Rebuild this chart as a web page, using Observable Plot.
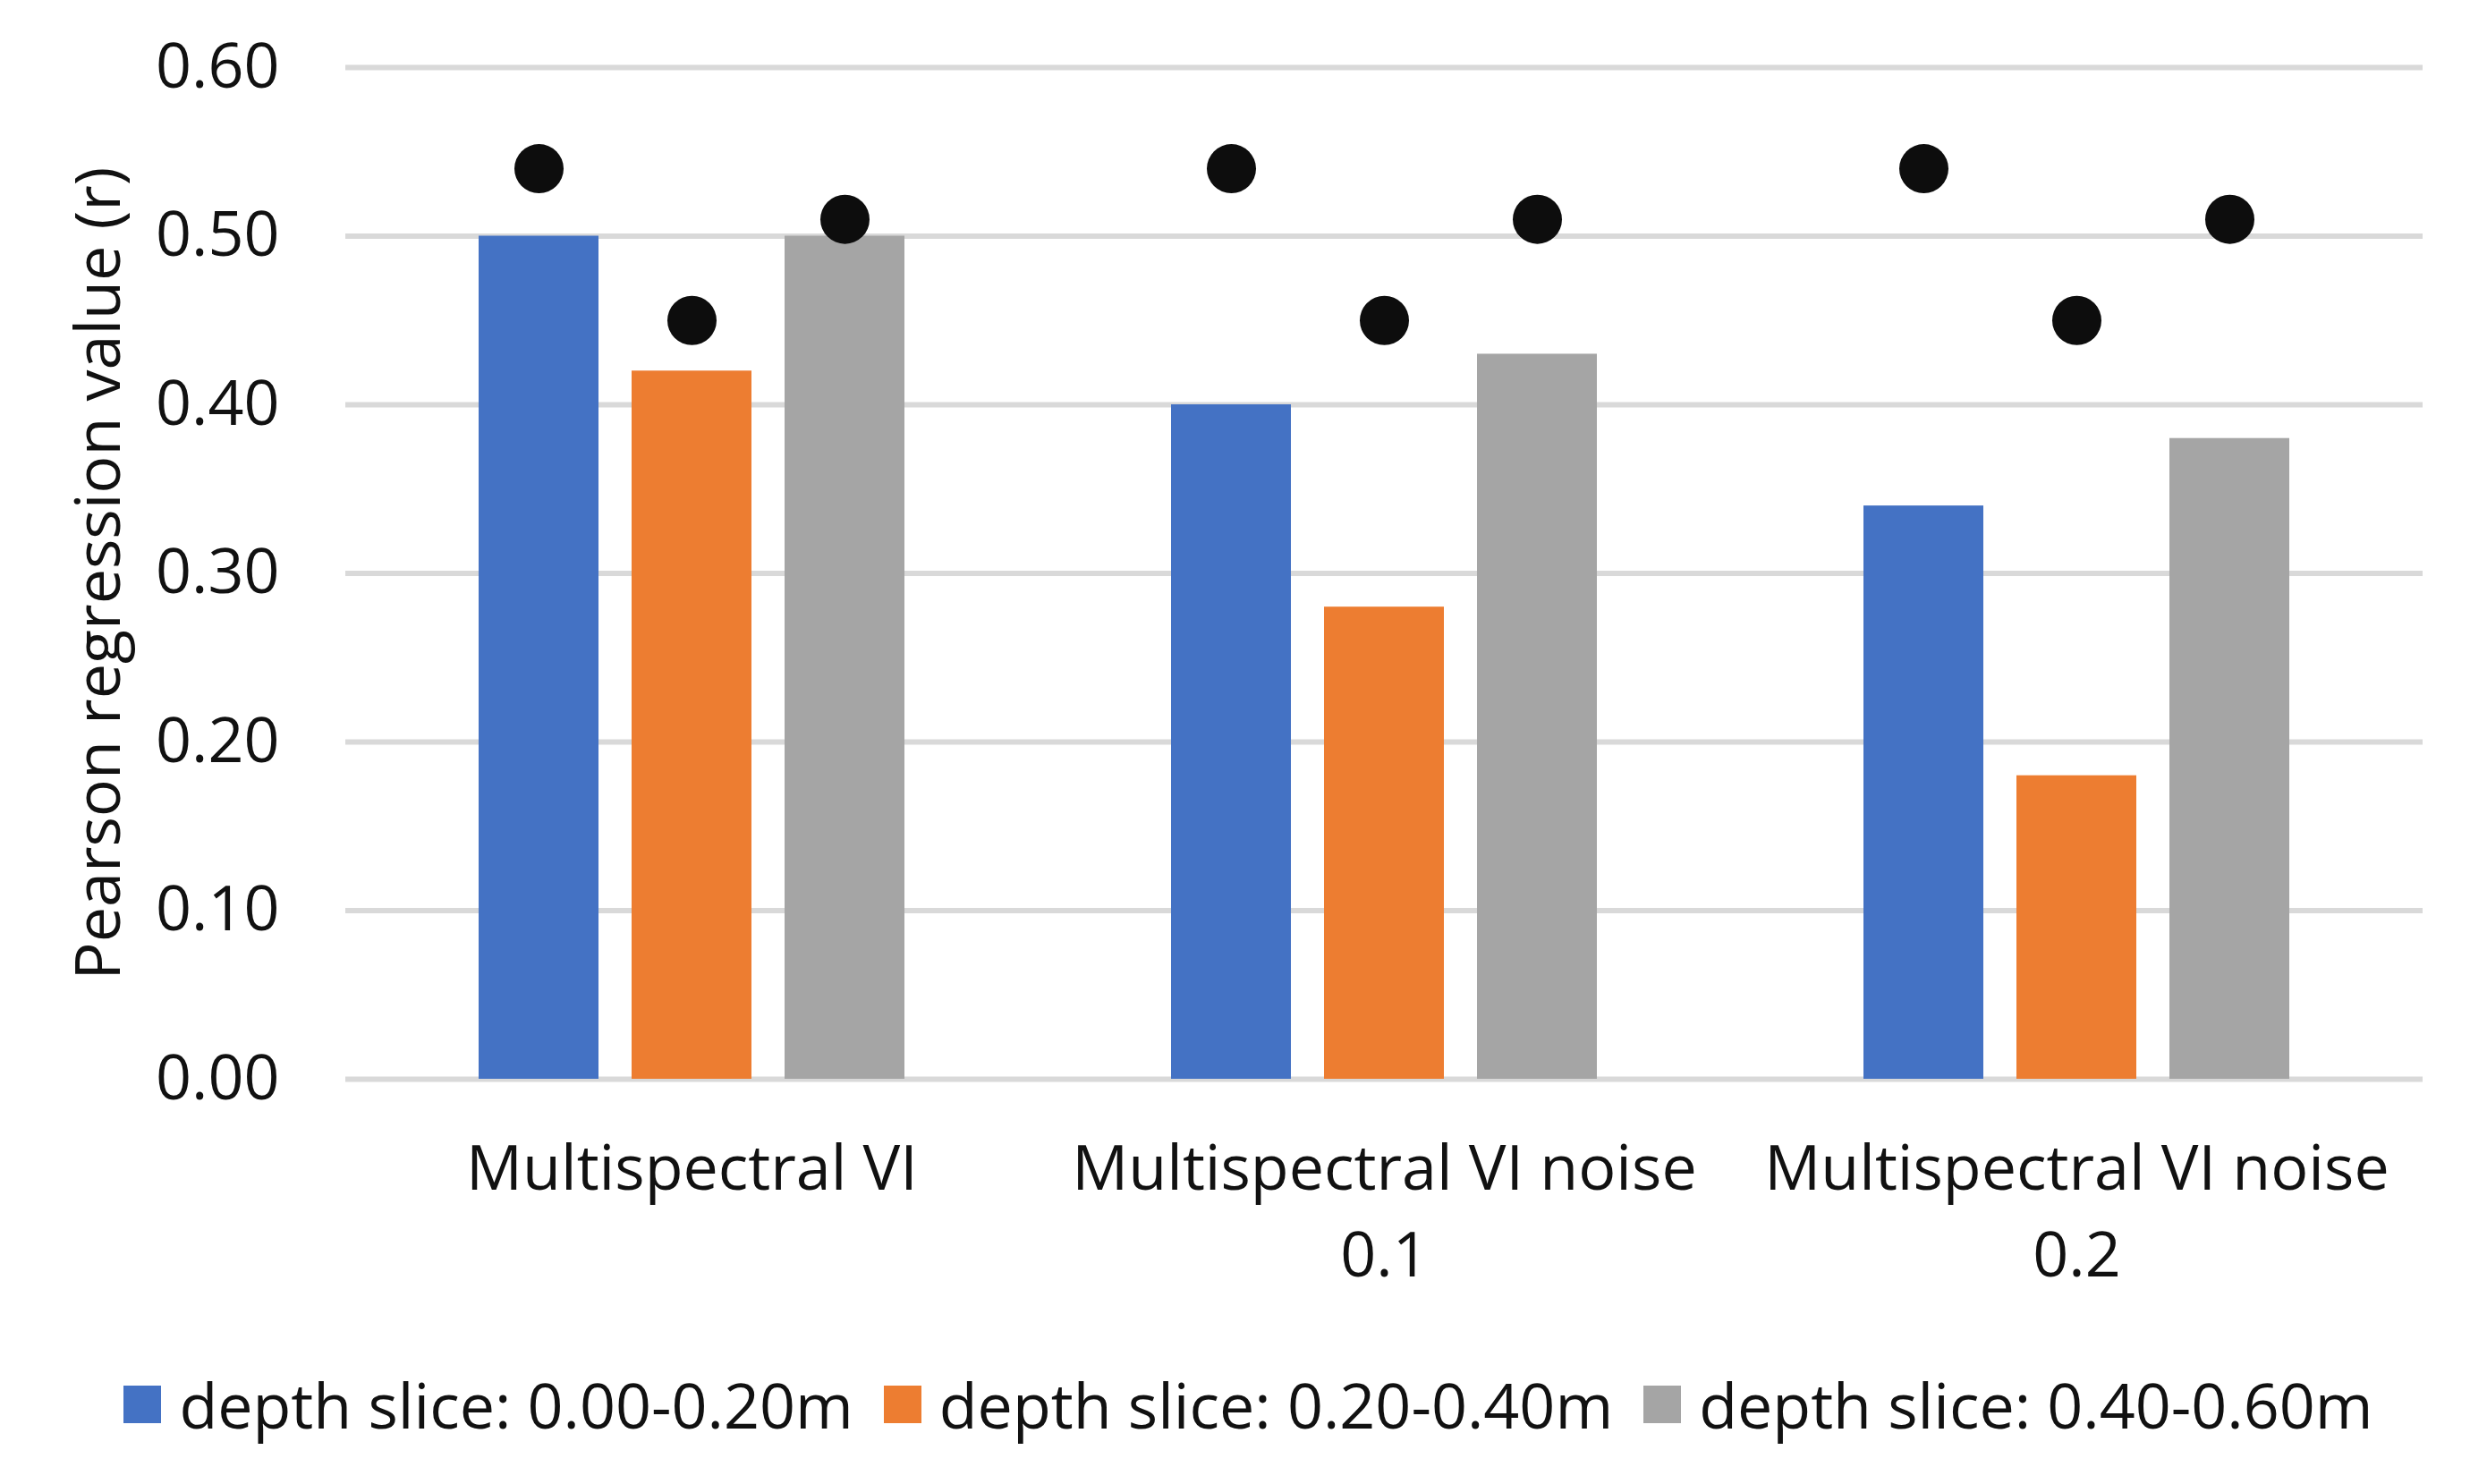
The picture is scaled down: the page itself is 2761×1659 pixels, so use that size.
<!DOCTYPE html>
<html>
<head>
<meta charset="utf-8">
<script src="https://cdn.jsdelivr.net/npm/d3@7"></script>
<script src="https://cdn.jsdelivr.net/npm/@observablehq/plot@0.6"></script>
<style>
  html, body { margin: 0; padding: 0; background: #fff; }
  body { width: 2761px; font-family: "Open Sans", sans-serif; color: #111; }
  #legend { width: 2761px; height: 140px; box-sizing: border-box; padding-left: 30px;
            display: flex; justify-content: center; align-items: center; gap: 34px; }
  .item { display: flex; align-items: center; gap: 20px; font-size: 70px; line-height: 1; white-space: pre; }
  .sw { width: 42px; height: 42px; display: inline-block; }
</style>
</head>
<body>
<div id="chart"></div>
<div id="legend"></div>
<script>
const categories = ["Multispectral VI", "Multispectral VI noise 0.1", "Multispectral VI noise 0.2"];
const categoryLabels = ["Multispectral VI", "Multispectral VI noise\n0.1", "Multispectral VI noise\n0.2"];
const series = ["depth slice: 0.00-0.20m", "depth slice: 0.20-0.40m", "depth slice: 0.40-0.60m"];
const colors = ["#4472c4", "#ed7d31", "#a5a5a5"];
// bar values, one array per series (across categories)
const slice0020 = [0.50, 0.40, 0.34];
const slice2040 = [0.42, 0.28, 0.18];
const slice4060 = [0.50, 0.43, 0.38];
// black dot markers, one array per series (across categories)
const dot0020 = [0.54, 0.54, 0.54];
const dot2040 = [0.45, 0.45, 0.45];
const dot4060 = [0.51, 0.51, 0.51];
const yTicks = [0, 0.1, 0.2, 0.3, 0.4, 0.5, 0.6];
const yTitle = "Pearson regression value (r)";

const barSeries = [slice0020, slice2040, slice4060];
const dotSeries = [dot0020, dot2040, dot4060];
const bars = [], dots = [];
categories.forEach((c, i) => series.forEach((s, j) => {
  bars.push({category: c, series: s, value: barSeries[j][i]});
  dots.push({category: c, series: s, value: dotSeries[j][i]});
}));

const chart = Plot.plot({
  width: 2761,
  height: 1500,
  marginLeft: 385,
  marginRight: 52,
  marginTop: 75,
  marginBottom: 294,
  style: {fontFamily: "Open Sans, sans-serif", fontSize: "70px", color: "#111", background: "#fff"},
  fx: {domain: categories, padding: 0, axis: null, label: null},
  x: {domain: series, paddingInner: 0.215, paddingOuter: 0.87, axis: null},
  y: {domain: [0, 0.6], axis: null},
  color: {domain: series, range: colors},
  marks: [
    Plot.ruleY(yTicks, {stroke: "#d9d9d9", strokeWidth: 6}),
    Plot.barY(bars, {fx: "category", x: "series", y: "value", fill: "series"}),
    Plot.dot(dots, {fx: "category", x: "series", y: "value", r: 27.5, fill: "#0d0d0d", stroke: "none"}),
    Plot.axisY({ticks: yTicks, tickFormat: d => d.toFixed(2), tickSize: 0, tickPadding: 74,
                fontSize: 70, label: yTitle, labelAnchor: "center", labelArrow: "none", labelOffset: 302}),
    Plot.axisFx({anchor: "bottom", tickSize: 0, tickPadding: 54, fontSize: 70, lineHeight: 1.39,
                 tickFormat: d => categoryLabels[categories.indexOf(d)], label: null})
  ]
});
document.getElementById("chart").appendChild(chart);

const legend = document.getElementById("legend");
series.forEach((s, i) => {
  const item = document.createElement("div");
  item.className = "item";
  const sw = document.createElement("span");
  sw.className = "sw";
  sw.style.background = colors[i];
  const t = document.createElement("span");
  t.textContent = s;
  item.appendChild(sw);
  item.appendChild(t);
  legend.appendChild(item);
});
</script>
</body>
</html>
